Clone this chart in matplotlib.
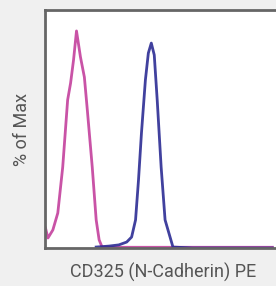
import matplotlib
matplotlib.use("Agg")
import matplotlib.pyplot as plt
import numpy as np

# --- Histogram traces (% of max vs. PE channel) ---
control_x = [2, 12, 32, 52, 72, 92, 104, 116, 128, 144, 160, 172, 192, 208, 220, 232, 300, 500, 700, 924]
control_y = [8.4, 4.2, 7.6, 14.7, 34.0, 62.2, 69.3, 79.0, 91.2, 80.3, 71.8, 58.0, 34.0, 11.8, 3.4, 0.4, 0.3, 0.3, 0.3, 0.3]

ncad_x = [208, 260, 300, 332, 352, 368, 380, 392, 408, 420, 432, 444, 456, 472, 488, 520, 600, 924]
ncad_y = [0.4, 0.8, 1.3, 2.5, 4.6, 11.8, 28.6, 48.3, 70.6, 81.9, 86.1, 81.1, 62.2, 34.0, 11.8, 0.4, 0.0, 0.0]

fig_w, fig_h = 276, 286
fig = plt.figure(figsize=(fig_w / 100, fig_h / 100), dpi=100, facecolor="#f0f0f0")
ax = fig.add_axes([45 / fig_w, 1 - 248 / fig_h, 1 - 45 / fig_w + 0.01, 238 / fig_h])
ax.set_facecolor("white")

ax.plot(control_x, control_y, color="#c3409d", lw=2, solid_joinstyle="round", alpha=0.9)
ax.plot(ncad_x, ncad_y, color="#2c2c94", lw=2, solid_joinstyle="round", alpha=0.9)

ax.set_xlim(0, 950)
ax.set_ylim(0, 100)
ax.set_xticks([])
ax.set_yticks([])
for side in ["left", "top", "bottom"]:
    ax.spines[side].set_color("#666666")
    ax.spines[side].set_linewidth(2)
ax.spines["right"].set_visible(False)

font = ["Roboto", "DejaVu Sans"]
fig.text(163 / fig_w, 1 - 272 / fig_h, "CD325 (N-Cadherin) PE", ha="center", va="center",
         fontsize=13, color="#555555", family=font)
fig.text(22 / fig_w, 1 - 129 / fig_h, "% of Max", ha="center", va="center", rotation=90,
         fontsize=13, color="#555555", family=font)

fig.savefig("out.png", dpi=100, facecolor=fig.get_facecolor())
